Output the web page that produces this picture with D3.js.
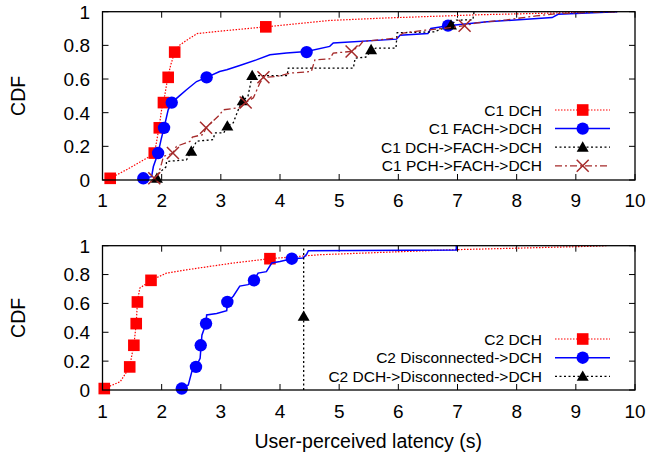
<!DOCTYPE html>
<html lang="en">
<head>
  <meta charset="UTF-8">
  <title>CDF of user-perceived latency</title>
  <script src="https://d3js.org/d3.v7.min.js"></script>
  <style>
    body { margin: 0; background: #fff; }
    text { font-family: "Liberation Sans", Arial, Helvetica, sans-serif; fill: #000; }
  </style>
</head>
<body>
  <svg width="647" height="455"></svg>
  <script>
    const xTicks = [1, 2, 3, 4, 5, 6, 7, 8, 9, 10];
    const yTicks = [0, 0.2, 0.4, 0.6, 0.8, 1];
    const yTickLabels = ["0", "0.2", "0.4", "0.6", "0.8", "1"];
    const xTitle = "User-perceived latency (s)";
    const yTitle = "CDF";

    // top panel (C1)
    const c1DchLine = [[1.13,0.01],[1.4,0.06],[1.7,0.12],[1.85,0.15],[1.9,0.2],[1.95,0.3],[2.0,0.42],[2.05,0.5],[2.1,0.6],
      [2.15,0.68],[2.22,0.76],[2.3,0.8],[2.42,0.83],[2.6,0.87],[3.0,0.885],[3.76,0.91],[4.84,0.948],[5.74,0.962],
      [7.38,0.982],[9.0,0.995],[9.7,1.0]];
    const c1DchMarks = [[1.13,0.01],[1.875,0.16],[1.96,0.31],[2.03,0.46],[2.11,0.61],[2.22,0.76],[3.76,0.91]];

    const c1FachLine = [[1.69,0.01],[1.83,0.02],[1.86,0.08],[1.94,0.16],[1.99,0.24],[2.04,0.31],[2.11,0.417],[2.17,0.46],
      [2.3,0.5],[2.42,0.536],[2.59,0.585],[2.76,0.61],[2.98,0.645],[3.1,0.655],[3.32,0.68],[3.6,0.714],[3.83,0.744],
      [4.11,0.754],[4.45,0.764],[4.84,0.794],[4.9,0.814],[5.97,0.837],[6.03,0.86],[6.5,0.87],[6.55,0.9],[6.84,0.917],
      [7.5,0.94],[8.6,0.965],[8.7,0.985],[9.7,1.0]];
    const c1FachMarks = [[1.69,0.01],[1.94,0.16],[2.04,0.31],[2.17,0.46],[2.76,0.61],[4.45,0.76],[6.84,0.917]];

    const c1DchFachLine = [[1.92,0.01],[1.95,0.04],[2.08,0.08],[2.08,0.11],[2.42,0.12],[2.5,0.17],[2.59,0.23],[2.87,0.24],
      [2.9,0.28],[3.05,0.28],[3.11,0.32],[3.21,0.34],[3.32,0.44],[3.37,0.47],[3.46,0.5],[3.53,0.62],[4.12,0.62],
      [4.14,0.665],[5.24,0.665],[5.27,0.724],[5.45,0.73],[5.55,0.77],[5.62,0.784],[5.96,0.784],[5.98,0.875],
      [6.6,0.88],[6.75,0.9],[6.89,0.92],[6.98,0.95],[7.26,0.952],[7.28,1.0]];
    const c1DchFachMarks = [[1.92,0.01],[2.5,0.17],[3.11,0.32],[3.37,0.47],[3.53,0.62],[5.54,0.774],[6.89,0.92]];

    const c1PchLine = [[1.875,0.01],[1.95,0.04],[2.0,0.1],[2.03,0.14],[2.19,0.16],[2.25,0.2],[2.48,0.23],[2.52,0.255],
      [2.7,0.27],[2.75,0.31],[2.98,0.387],[3.04,0.417],[3.32,0.43],[3.42,0.46],[3.55,0.488],[3.66,0.576],[3.72,0.61],
      [3.94,0.615],[4.17,0.635],[4.53,0.645],[4.59,0.714],[4.84,0.72],[4.9,0.754],[5.21,0.764],[5.35,0.8],[5.4,0.823],
      [5.97,0.843],[6.08,0.873],[6.45,0.89],[6.81,0.903],[7.12,0.917],[7.32,0.933],[7.83,0.952],[8.33,0.975],
      [8.73,0.99],[9.7,1.0]];
    const c1PchMarks = [[1.875,0.01],[2.19,0.16],[2.75,0.31],[3.42,0.46],[3.72,0.61],[5.21,0.764],[7.12,0.917]];

    // bottom panel (C2)
    const c2DchLine = [[1.03,0.01],[1.3,0.058],[1.41,0.127],[1.46,0.16],[1.5,0.25],[1.53,0.31],[1.57,0.46],[1.59,0.61],
      [1.63,0.706],[1.75,0.74],[1.82,0.76],[2.08,0.81],[2.42,0.833],[3.21,0.88],[3.83,0.91],[4.67,0.9375],
      [6.93,0.972],[9.18,0.995],[9.52,1.0]];
    const c2DchMarks = [[1.03,0.01],[1.46,0.16],[1.53,0.31],[1.57,0.46],[1.59,0.61],[1.82,0.76],[3.83,0.91]];

    const c2DiscLine = [[2.34,0.01],[2.45,0.035],[2.51,0.127],[2.58,0.16],[2.65,0.22],[2.68,0.38],[2.75,0.46],[2.76,0.52],
      [2.93,0.53],[3.1,0.55],[3.11,0.61],[3.21,0.65],[3.32,0.72],[3.46,0.73],[3.56,0.76],[3.63,0.81],[3.77,0.82],
      [3.86,0.88],[4.0,0.89],[4.2,0.91],[4.39,0.915],[4.45,0.94],[4.48,0.965],[6.98,0.97],[6.98,1.0]];
    const c2DiscMarks = [[2.34,0.01],[2.58,0.16],[2.66,0.31],[2.75,0.46],[3.11,0.61],[3.56,0.76],[4.2,0.91]];

    const c2DchDiscLine = [[4.4,0],[4.4,1]];
    const c2DchDiscMarks = [[4.4,0.51]];

    const styles = {
      red:   { color: "#ff0000", width: 1.2, dash: "1.5,1.5", mark: "square" },
      blue:  { color: "#0000ff", width: 1.5, dash: null, mark: "circle" },
      black: { color: "#000000", width: 1.3, dash: "2,2.5", mark: "triangle" },
      brown: { color: "#a52a2a", width: 1.3, dash: "7,3,2,3", mark: "x" }
    };

    const panels = [
      { top: 11.7, bottom: 180, labelOff: 20, legendY: 110, legendGap: 18.6, series: [
        { name: "C1 DCH", line: c1DchLine, marks: c1DchMarks, s: styles.red },
        { name: "C1 FACH->DCH", line: c1FachLine, marks: c1FachMarks, s: styles.blue },
        { name: "C1 DCH->FACH->DCH", line: c1DchFachLine, marks: c1DchFachMarks, s: styles.black },
        { name: "C1 PCH->FACH->DCH", line: c1PchLine, marks: c1PchMarks, s: styles.brown }
      ]},
      { top: 245.7, bottom: 390, labelOff: 21.5, legendY: 339, legendGap: 18.7, series: [
        { name: "C2 DCH", line: c2DchLine, marks: c2DchMarks, s: styles.red },
        { name: "C2 Disconnected->DCH", line: c2DiscLine, marks: c2DiscMarks, s: styles.blue },
        { name: "C2 DCH->Disconnected->DCH", line: c2DchDiscLine, marks: c2DchDiscMarks, s: styles.black }
      ]}
    ];

    const svg = d3.select("svg");
    const left = 102.5, right = 635;
    const x = d3.scaleLinear().domain([1, 10]).range([left, right]);

    function drawMark(g, kind, cx, cy, color) {
      if (kind === "square") {
        g.append("rect").attr("x", cx - 5.8).attr("y", cy - 5.8).attr("width", 11.6).attr("height", 11.6).attr("fill", color);
      } else if (kind === "circle") {
        g.append("circle").attr("cx", cx).attr("cy", cy).attr("r", 6.2).attr("fill", color);
      } else if (kind === "triangle") {
        g.append("path").attr("d", d3.symbol(d3.symbolTriangle, 62)()).attr("transform", `translate(${cx},${cy + 1})`).attr("fill", color);
      } else {
        g.append("path").attr("d", `M${cx-6},${cy-6}L${cx+6},${cy+6}M${cx-6},${cy+6}L${cx+6},${cy-6}`)
          .attr("stroke", color).attr("stroke-width", 1.5).attr("fill", "none");
      }
    }

    panels.forEach(p => {
      const y = d3.scaleLinear().domain([0, 1]).range([p.bottom, p.top]);
      const g = svg.append("g");

      // ticks (inward, mirrored)
      xTicks.forEach(t => {
        g.append("line").attr("x1", x(t)).attr("x2", x(t)).attr("y1", p.bottom).attr("y2", p.bottom - 6).attr("stroke", "#000");
        g.append("line").attr("x1", x(t)).attr("x2", x(t)).attr("y1", p.top).attr("y2", p.top + 6).attr("stroke", "#000");
        g.append("text").attr("x", x(t)).attr("y", p.bottom + p.labelOff).attr("dy", "0.35em")
          .attr("text-anchor", "middle").style("font-size", "19px").text(t);
      });
      yTicks.forEach((t, i) => {
        g.append("line").attr("x1", left).attr("x2", left + 6).attr("y1", y(t)).attr("y2", y(t)).attr("stroke", "#000");
        g.append("line").attr("x1", right).attr("x2", right - 6).attr("y1", y(t)).attr("y2", y(t)).attr("stroke", "#000");
        g.append("text").attr("x", 90).attr("y", y(t)).attr("dy", "0.36em")
          .attr("text-anchor", "end").style("font-size", "19px").text(yTickLabels[i]);
      });

      g.append("text").attr("transform", `translate(25,${(p.top + p.bottom) / 2}) rotate(-90)`)
        .attr("text-anchor", "middle").style("font-size", "19.5px").text(yTitle);

      const line = d3.line().x(d => x(d[0])).y(d => y(d[1]));
      p.series.forEach((sr, i) => {
        g.append("path").attr("d", line(sr.line)).attr("fill", "none")
          .attr("stroke", sr.s.color).attr("stroke-width", sr.s.width)
          .attr("stroke-dasharray", sr.s.dash);
        sr.marks.forEach(m => drawMark(g, sr.s.mark, x(m[0]), y(m[1]), sr.s.color));

        // legend entry
        const ly = p.legendY + i * p.legendGap;
        g.append("text").attr("x", 542).attr("y", ly).attr("dy", "0.36em")
          .attr("text-anchor", "end").style("font-size", "15.5px").text(sr.name);
        g.append("line").attr("x1", 555).attr("x2", 610).attr("y1", ly).attr("y2", ly)
          .attr("stroke", sr.s.color).attr("stroke-width", sr.s.width).attr("stroke-dasharray", sr.s.dash);
        drawMark(g, sr.s.mark, 582.7, ly, sr.s.color);
      });

      g.append("rect").attr("x", left).attr("y", p.top).attr("width", right - left).attr("height", p.bottom - p.top)
        .attr("fill", "none").attr("stroke", "#000").attr("stroke-width", 1.3);
    });

    svg.append("text").attr("x", (left + right) / 2 - 0.5).attr("y", 448).attr("text-anchor", "middle")
      .style("font-size", "19.5px").text(xTitle);
  </script>
</body>
</html>
